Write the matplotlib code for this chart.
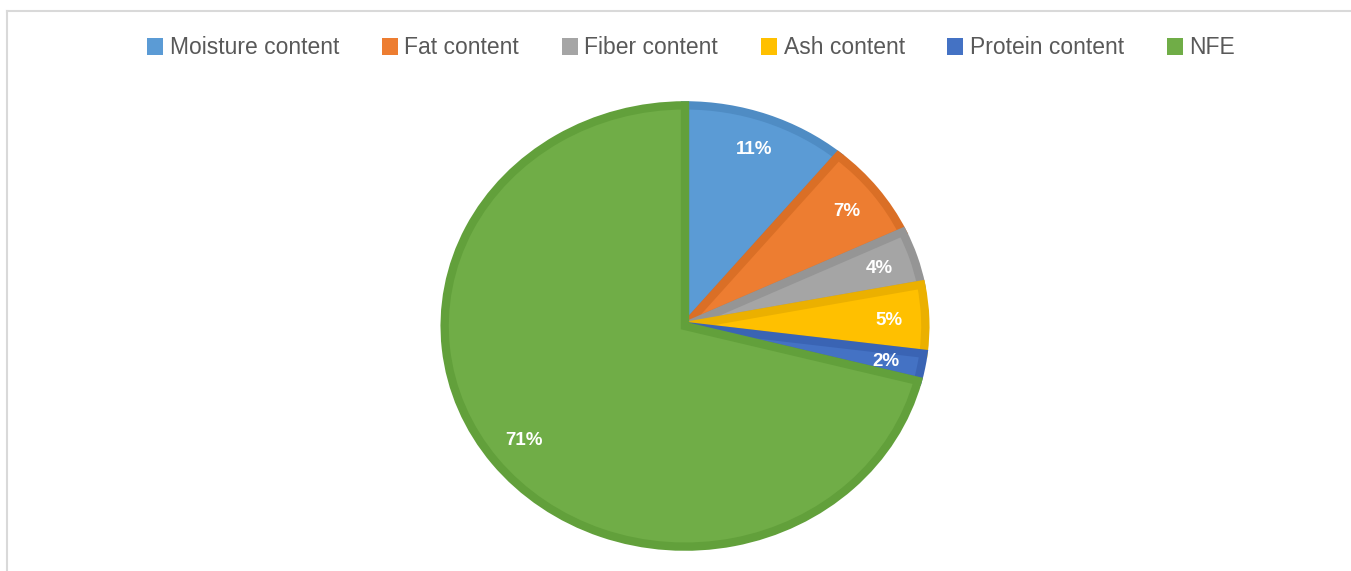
import matplotlib.pyplot as plt
from matplotlib.lines import Line2D

labels = ['Moisture content', 'Fat content', 'Fiber content', 'Ash content',
          'Protein content', 'NFE']
values = [11, 7, 4, 5, 2, 71]
colors = ['#5B9BD5', '#ED7D31', '#A5A5A5', '#FFC000', '#4472C4', '#70AD47']
edges = ['#4F8CC4', '#DA6F26', '#959595', '#EBB000', '#3A64B4', '#62A03B']

plt.rcParams['font.family'] = ['Liberation Sans', 'DejaVu Sans']

fig = plt.figure(figsize=(13.51, 5.71), dpi=100)
fig.patch.set_facecolor('white')

# frame lines of the chart area (top and left visible)
fig.add_artist(Line2D([7 / 1351, 1], [1 - 11 / 571, 1 - 11 / 571], color='#D9D9D9', lw=1.5))
fig.add_artist(Line2D([7 / 1351, 7 / 1351], [0, 1 - 11 / 571], color='#D9D9D9', lw=1.5))

ax = fig.add_axes([441 / 1351, 21 / 571, 488 / 1351, 448 / 571])
wedges, texts, autotexts = ax.pie(
    values, colors=colors, startangle=90, counterclock=False, radius=0.985,
    autopct='%1.0f%%', pctdistance=0.85,
    wedgeprops=dict(linewidth=6, linestyle='-'),
    textprops=dict(color='white', fontsize=13.5, fontweight='bold'))
for w, e in zip(wedges, edges):
    w.set_edgecolor(e)
    w.set_joinstyle('miter')
ax.set_aspect('auto')
ax.set_xlim(-1, 1)
ax.set_ylim(-1, 1)
ax.axis('off')

leg = fig.legend(wedges, labels, loc='center', bbox_to_anchor=(691 / 1351, 1 - 48 / 571),
                 ncol=6, frameon=False, fontsize=16.5, handlelength=0.7, handleheight=0.7,
                 handletextpad=0.3, columnspacing=1.85, labelcolor='#595959')
for h, c in zip(leg.legend_handles, colors):
    h.set_edgecolor(c)
    h.set_linewidth(0)

fig.savefig('out.png', dpi=100, facecolor='white')
